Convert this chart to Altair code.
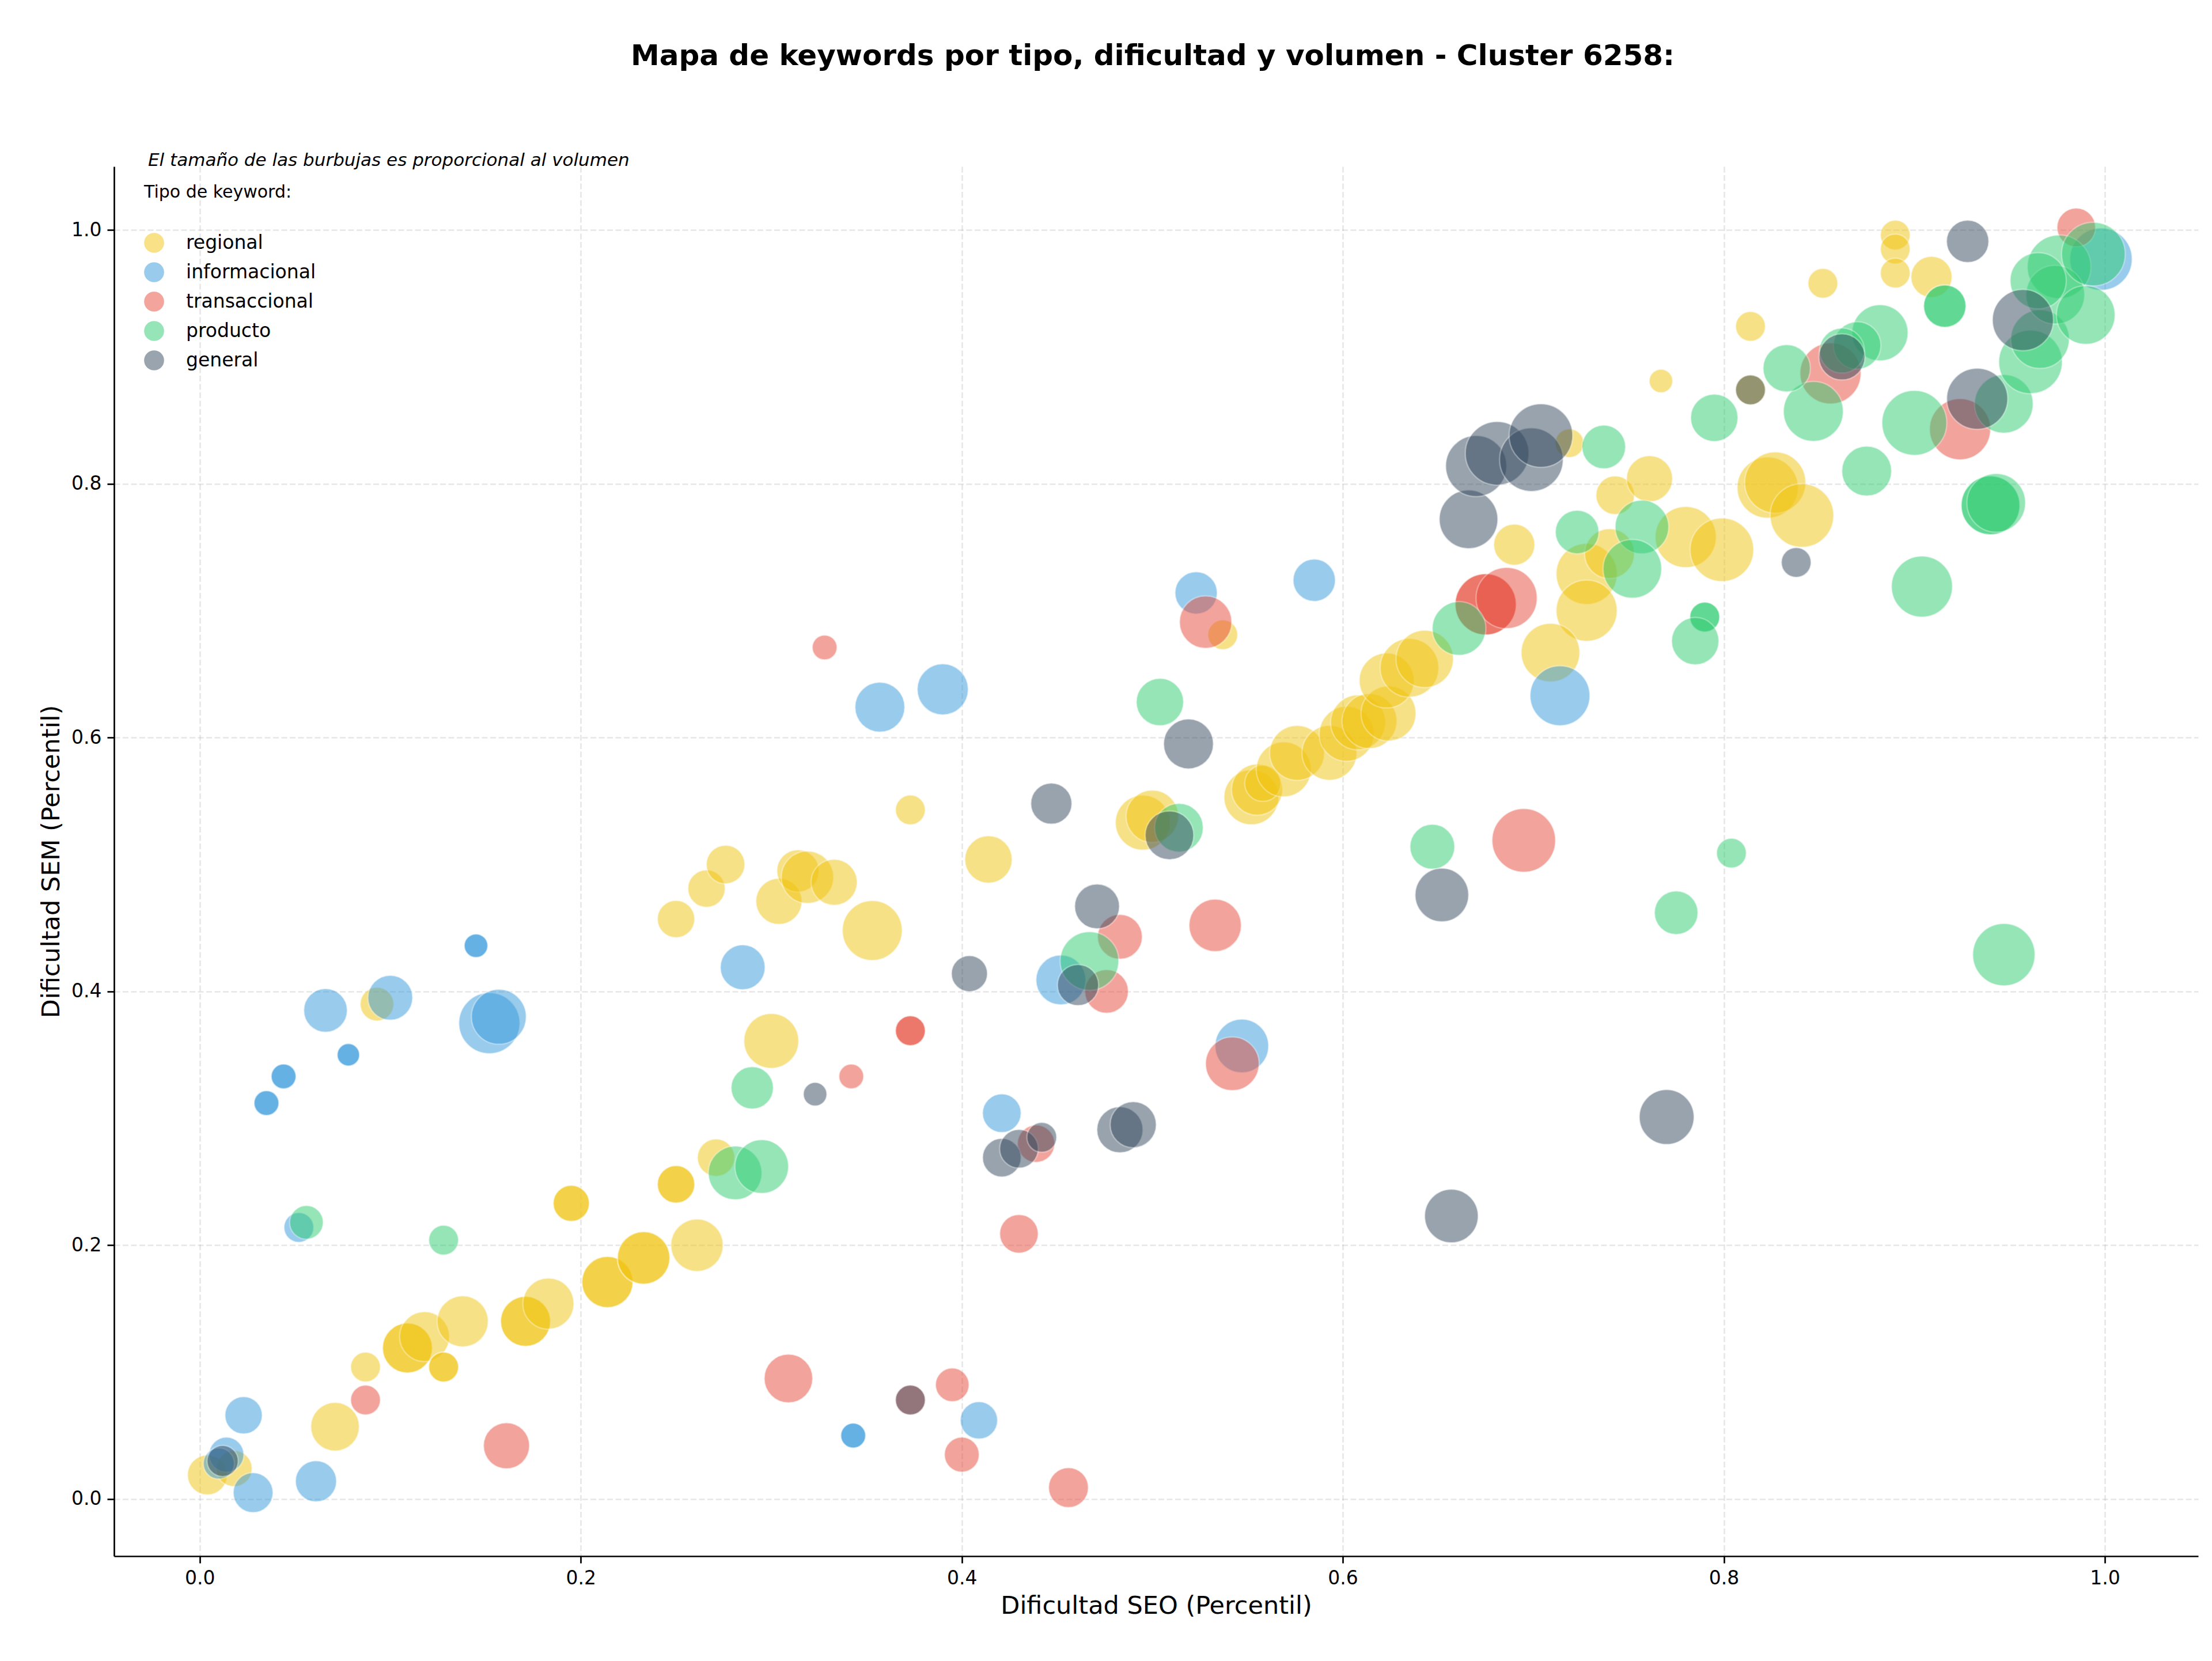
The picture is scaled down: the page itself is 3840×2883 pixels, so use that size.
import altair as alt
import pandas as pd

TYPES = ["regional", "informacional", "transaccional", "producto", "general"]
COLORS = ["#f1c40f", "#3498db", "#e74c3c", "#2ecc71", "#34495e"]

regional_seo = [0.004, 0.018, 0.071, 0.087, 0.109, 0.109, 0.118, 0.138, 0.128, 0.128, 0.171, 0.171, 0.183,
                0.214, 0.214, 0.233, 0.233, 0.261, 0.195, 0.195, 0.25, 0.25, 0.271, 0.3, 0.093,
                0.25, 0.266, 0.276, 0.304, 0.314, 0.319, 0.333, 0.353, 0.373, 0.414, 0.495, 0.5,
                0.552, 0.555, 0.558, 0.569, 0.576, 0.593, 0.602, 0.608, 0.614, 0.624, 0.623, 0.635, 0.643, 0.537,
                0.69, 0.728, 0.728, 0.709, 0.743, 0.761, 0.74, 0.78, 0.799, 0.823, 0.827, 0.841, 0.767, 0.814,
                0.852, 0.89, 0.89, 0.89, 0.909, 0.719, 0.814]
regional_sem = [0.019, 0.024, 0.057, 0.104, 0.119, 0.119, 0.128, 0.14, 0.104, 0.104, 0.14, 0.14, 0.154,
                0.171, 0.171, 0.19, 0.19, 0.2, 0.233, 0.233, 0.248, 0.248, 0.269, 0.361, 0.39,
                0.457, 0.481, 0.5, 0.471, 0.495, 0.49, 0.486, 0.448, 0.543, 0.504, 0.533, 0.538,
                0.553, 0.559, 0.564, 0.575, 0.588, 0.588, 0.603, 0.612, 0.613, 0.619, 0.645, 0.655, 0.662, 0.681,
                0.752, 0.729, 0.7, 0.667, 0.791, 0.804, 0.745, 0.758, 0.748, 0.797, 0.801, 0.775, 0.881, 0.924,
                0.958, 0.996, 0.985, 0.966, 0.963, 0.832, 0.874]
regional_vol = [410, 336, 608, 230, 640, 640, 640, 672, 230, 230, 640, 640, 672,
                672, 672, 706, 706, 706, 336, 336, 360, 360, 360, 774, 292,
                360, 360, 384, 548, 462, 706, 548, 922, 230, 578, 774, 706,
                774, 672, 336, 774, 774, 774, 774, 774, 774, 774, 774, 884, 846, 230,
                436, 960, 960, 884, 384, 548, 640, 960, 1040, 960, 960, 1040, 144, 230,
                230, 230, 230, 230, 436, 212, 230]

informacional_seo = [0.023, 0.014, 0.028, 0.061, 0.035, 0.035, 0.044, 0.044, 0.078, 0.078, 0.145, 0.145,
                     0.066, 0.1, 0.152, 0.157, 0.052, 0.343, 0.343, 0.357, 0.39, 0.523, 0.585, 0.452,
                     0.421, 0.547, 0.409, 0.714, 0.998, 0.01, 0.285]
informacional_sem = [0.066, 0.035, 0.005, 0.014, 0.312, 0.312, 0.333, 0.333, 0.35, 0.35, 0.436, 0.436,
                     0.385, 0.395, 0.375, 0.38, 0.214, 0.05, 0.05, 0.624, 0.638, 0.714, 0.724, 0.409,
                     0.304, 0.357, 0.062, 0.633, 0.977, 0.028, 0.419]
informacional_vol = [360, 314, 410, 436, 160, 160, 160, 160, 130, 130, 144, 144,
                     490, 518, 960, 774, 230, 160, 160, 640, 672, 462, 462, 640,
                     384, 740, 360, 922, 1000, 250, 518]

transaccional_seo = [0.087, 0.161, 0.309, 0.342, 0.328, 0.373, 0.373, 0.43, 0.395, 0.4, 0.456, 0.373,
                     0.533, 0.542, 0.483, 0.476, 0.439, 0.528, 0.675, 0.675, 0.686, 0.695, 0.924, 0.856, 0.985]
transaccional_sem = [0.078, 0.042, 0.095, 0.333, 0.671, 0.369, 0.369, 0.209, 0.09, 0.035, 0.009, 0.078,
                     0.452, 0.343, 0.443, 0.4, 0.28, 0.691, 0.705, 0.705, 0.71, 0.519, 0.843, 0.887, 1.002]
transaccional_vol = [230, 548, 608, 160, 160, 230, 230, 384, 292, 314, 410, 230,
                     706, 740, 518, 490, 360, 706, 960, 960, 960, 1040, 960, 960, 384]

producto_seo = [0.056, 0.128, 0.29, 0.281, 0.295, 0.504, 0.514, 0.467, 0.647, 0.661, 0.737, 0.723, 0.757,
                0.752, 0.79, 0.79, 0.785, 0.795, 0.804, 0.775, 0.947, 0.904, 0.875, 0.847, 0.833, 0.882,
                0.87, 0.862, 0.9, 0.916, 0.916, 0.94, 0.94, 0.943, 0.947, 0.961, 0.966, 0.976, 0.974,
                0.99, 0.994, 0.965]
producto_sem = [0.218, 0.204, 0.324, 0.257, 0.262, 0.628, 0.529, 0.424, 0.514, 0.686, 0.829, 0.762, 0.766,
                0.733, 0.695, 0.695, 0.676, 0.852, 0.509, 0.462, 0.429, 0.719, 0.81, 0.857, 0.891, 0.919,
                0.909, 0.905, 0.848, 0.94, 0.94, 0.783, 0.783, 0.785, 0.863, 0.896, 0.914, 0.971, 0.949,
                0.933, 0.981, 0.96]
producto_vol = [292, 230, 462, 740, 740, 578, 608, 884, 518, 740, 490, 490, 740,
                884, 230, 230, 578, 578, 230, 490, 1000, 960, 640, 922, 578, 810,
                578, 518, 1082, 462, 462, 884, 884, 884, 884, 1040, 884, 1040, 884,
                884, 1040, 810]

general_seo = [0.012, 0.323, 0.404, 0.471, 0.461, 0.421, 0.43, 0.442, 0.483, 0.49, 0.657, 0.652, 0.373,
               0.447, 0.519, 0.509, 0.77, 0.666, 0.67, 0.681, 0.699, 0.704, 0.814, 0.838, 0.862, 0.928,
               0.933, 0.957]
general_sem = [0.03, 0.319, 0.414, 0.467, 0.405, 0.269, 0.276, 0.285, 0.291, 0.295, 0.223, 0.476, 0.078,
               0.548, 0.595, 0.523, 0.301, 0.772, 0.814, 0.824, 0.819, 0.838, 0.874, 0.738, 0.9, 0.991,
               0.867, 0.929]
general_vol = [250, 144, 336, 518, 436, 384, 384, 230, 548, 548, 740, 740, 230,
               436, 640, 608, 774, 884, 960, 1040, 1040, 1040, 230, 230, 548, 462,
               960, 960]

subtitle_text = ["El tamaño de las burbujas es proporcional al volumen"]

series = {
    "regional": (regional_seo, regional_sem, regional_vol),
    "informacional": (informacional_seo, informacional_sem, informacional_vol),
    "transaccional": (transaccional_seo, transaccional_sem, transaccional_vol),
    "producto": (producto_seo, producto_sem, producto_vol),
    "general": (general_seo, general_sem, general_vol),
}
rows = []
order = 0
for t in TYPES:
    xs, ys, vs = series[t]
    for x, y, v in zip(xs, ys, vs):
        rows.append({"tipo": t, "seo": x, "sem": y, "volumen": v, "orden": order})
        order += 1
df = pd.DataFrame(rows)

FONT = "DejaVu Sans"

points = alt.Chart(df).mark_circle(
    opacity=0.5, stroke="white", strokeWidth=2.5, strokeOpacity=0.6
).encode(
    x=alt.X("seo:Q", title="Dificultad SEO (Percentil)",
            scale=alt.Scale(domain=[-0.045, 1.049], nice=False, zero=False),
            axis=alt.Axis(values=[0.0, 0.2, 0.4, 0.6, 0.8, 1.0], format=".1f")),
    y=alt.Y("sem:Q", title="Dificultad SEM (Percentil)",
            scale=alt.Scale(domain=[-0.045, 1.05], nice=False, zero=False),
            axis=alt.Axis(values=[0.0, 0.2, 0.4, 0.6, 0.8, 1.0], format=".1f")),
    color=alt.Color("tipo:N", scale=alt.Scale(domain=TYPES, range=COLORS),
                    legend=alt.Legend(title="Tipo de keyword:")),
    size=alt.Size("volumen:Q", scale=alt.Scale(domain=[0, 1000], range=[0, 11780], zero=True),
                  legend=None),
    order=alt.Order("orden:Q"),
)

note = alt.Chart(pd.DataFrame({"t": subtitle_text})).mark_text(
    align="left", baseline="middle", fontStyle="italic", fontSize=31, font=FONT, color="black"
).encode(x=alt.value(59), y=alt.value(-10), text="t:N")

chart = alt.layer(points, note).properties(
    width=3618, height=2412,
    autosize=alt.AutoSizeParams(type="none"),
    padding={"left": 190, "top": 281, "right": 16, "bottom": 174},
    title=alt.Title("Mapa de keywords por tipo, dificultad y volumen - Cluster 6258:",
                    fontSize=50, fontWeight="bold", font=FONT, anchor="middle",
                    dx=-6, offset=140, color="black"),
).configure_view(stroke=None).configure_axis(
    labelFont=FONT, titleFont=FONT, labelFontSize=33, titleFontSize=43,
    titleFontWeight="normal", labelColor="black", titleColor="black",
    domainColor="black", domainWidth=2.7, tickColor="black", tickWidth=2.7, tickSize=12,
    labelPadding=10, gridColor="#b0b0b0", gridOpacity=0.3, gridWidth=2.7, gridDash=[10, 4.5],
).configure_axisX(titlePadding=10).configure_axisY(titlePadding=12).configure_legend(
    orient="none", legendX=52, legendY=30, titleFont=FONT, labelFont=FONT,
    titleFontSize=30, titleFontWeight="normal", labelFontSize=33, titleColor="black", labelColor="black",
    symbolType="circle", symbolSize=1200, symbolOpacity=0.5, symbolStrokeWidth=0,
    titlePadding=55, rowPadding=16, labelOffset=38, padding=0, labelLimit=0, titleLimit=0,
)

chart.save("out.html", embed_options={"renderer": "svg", "actions": False})
